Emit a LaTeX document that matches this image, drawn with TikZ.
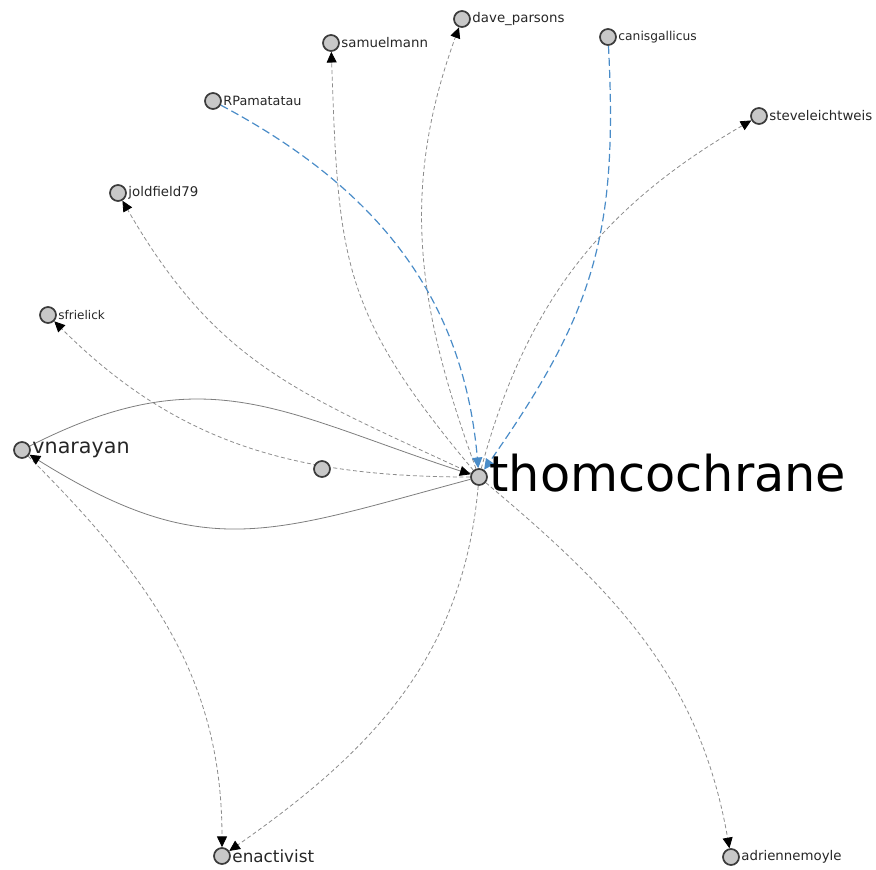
\documentclass[tikz,border=0pt]{standalone}
\usepackage{fontspec}
\setmainfont{DejaVu Sans}
\usetikzlibrary{arrows.meta,backgrounds}

\definecolor{kantegrau}{HTML}{8C8C8C}
\definecolor{kantenblau}{RGB}{74,140,200}
\definecolor{knotengrau}{HTML}{C8C8C8}
\definecolor{randgrau}{HTML}{3C3C3C}

\tikzset{
    knoten/.style={circle, fill=knotengrau, draw=randgrau, line width=1.3pt,
        minimum size=12pt, inner sep=0pt},
    etikett/.style={font=\fontsize{10}{12}\selectfont, text=black!85, inner sep=1pt},
    spitze/.style={-{Triangle[length=8pt,width=7.5pt,color=#1]}},
    kante/.style={kantegrau, densely dashed, line width=0.6pt, spitze=black},
    kantedurch/.style={kantegrau!90!black, line width=0.6pt, spitze=black},
    kanteblau/.style={kantenblau, dash pattern=on 6pt off 3pt, line width=0.9pt, spitze=kantenblau}
}

\begin{document}
\begin{tikzpicture}[x=0.75pt, y=-0.75pt]
    \useasboundingbox (0,0) rectangle (876,869);

    % Knoten
    \node[knoten, label={[etikett, font=\fontsize{37}{40}\selectfont, text=black, yshift=3pt]right:thomcochrane}] (thomcochrane) at (479,477) {};
    \node[knoten, label={[etikett, font=\fontsize{15.5}{18}\selectfont]right:vnarayan}] (vnarayan) at (22,450) {};
    \node[knoten] (ohne) at (322,469) {};
    \node[knoten, label={[etikett, font=\fontsize{9}{11}\selectfont]right:sfrielick}] (sfrielick) at (48,315) {};
    \node[knoten, label={[etikett]right:joldfield79}] (joldfield) at (118,193) {};
    \node[knoten, label={[etikett, font=\fontsize{9.6}{11}\selectfont]right:RPamatatau}] (rpamatatau) at (213,101) {};
    \node[knoten, label={[etikett]right:samuelmann}] (samuelmann) at (331,43) {};
    \node[knoten, label={[etikett]right:dave\_parsons}] (daveparsons) at (462,19) {};
    \node[knoten, label={[etikett, font=\fontsize{9.2}{11}\selectfont]right:canisgallicus}] (canisgallicus) at (608,37) {};
    \node[knoten, label={[etikett]right:steveleichtweis}] (steveleichtweis) at (759,116) {};
    \node[knoten, label={[etikett, font=\fontsize{12.6}{15}\selectfont]right:enactivist}] (enactivist) at (222,856) {};
    \node[knoten, label={[etikett]right:adriennemoyle}] (adriennemoyle) at (731,857) {};

    % Kanten
    \begin{scope}[on background layer]
        \draw[kante] (thomcochrane) to[out=130, in=-88, looseness=1.2] (samuelmann);
        \draw[kante] (thomcochrane) to[out=110, in=-110] (daveparsons);
        \draw[kante] (thomcochrane) to[out=75, in=-150] (steveleichtweis);
        \draw[kante] (thomcochrane) to[out=155, in=-60, looseness=1.1] (joldfield);
        \draw[kante] (thomcochrane) to[out=180, in=-45] (sfrielick);
        \draw[kante] (thomcochrane) to[out=-95, in=35] (enactivist);
        \draw[kante] (thomcochrane) to[out=-40, in=100] (adriennemoyle);
        \draw[kante] (vnarayan) to[out=-45, in=90] (enactivist);

        % vnarayan hin und zurueck
        \draw[kantedurch] (vnarayan) to[out=27, in=162, looseness=1.15] (thomcochrane);
        \draw[kantedurch] (thomcochrane) to[out=195, in=-32, looseness=1.2] (vnarayan);

        % blaue Kanten
        \draw[kanteblau] (rpamatatau) to[out=-28, in=95] (thomcochrane);
        \draw[kanteblau] (canisgallicus) to[out=-87, in=55, looseness=1.1] (thomcochrane);
    \end{scope}
\end{tikzpicture}
\end{document}
